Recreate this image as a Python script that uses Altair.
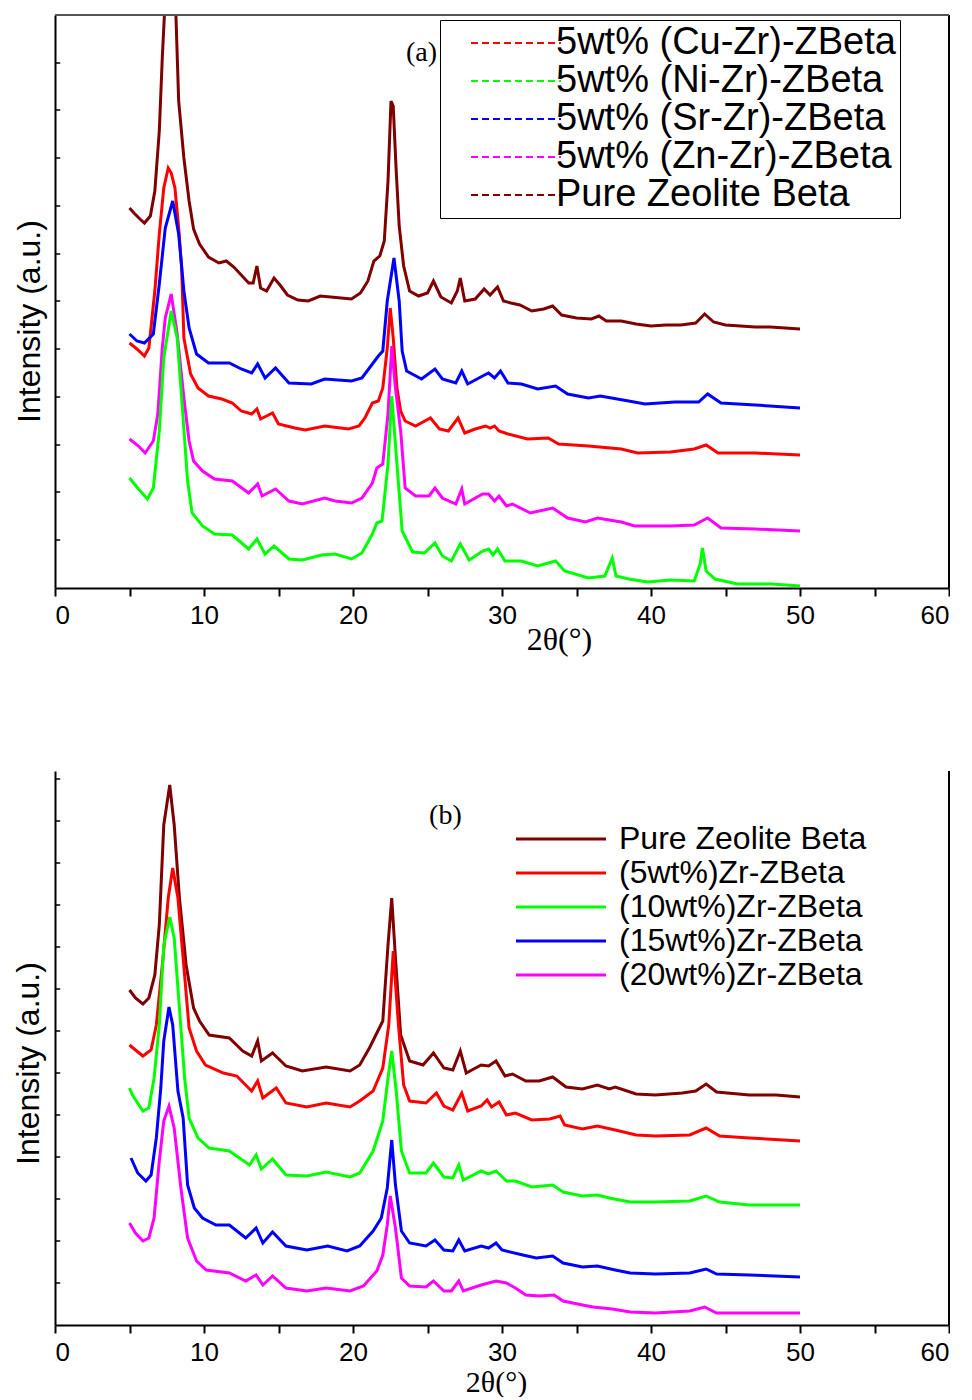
import altair as alt
import pandas as pd

# ---------------- Panel (a) ----------------
A_NAMES = ["5wt% (Cu-Zr)-ZBeta", "5wt% (Ni-Zr)-ZBeta", "5wt% (Sr-Zr)-ZBeta",
           "5wt% (Zn-Zr)-ZBeta", "Pure Zeolite Beta"]
A_COLORS = ["#FF0000", "#00FF00", "#0000FF", "#FF00FF", "#800000"]
A_DRAW_ORDER = ["Pure Zeolite Beta", "5wt% (Cu-Zr)-ZBeta", "5wt% (Sr-Zr)-ZBeta",
                "5wt% (Zn-Zr)-ZBeta", "5wt% (Ni-Zr)-ZBeta"]

a_pure_t = [5.0,5.3,5.7,6.0,6.4,6.7,7.0,7.2,7.4,7.7,7.9,8.1,8.3,8.65,9.0,9.3,9.7,10.3,11.0,11.5,
            12.0,12.5,13.0,13.3,13.55,13.8,14.2,14.7,15.1,15.6,16.3,17.0,17.8,18.5,19.2,19.9,20.5,21.0,21.4,21.8,
            22.1,22.35,22.55,22.7,22.9,23.1,23.4,23.8,24.4,25.0,25.4,25.9,26.6,27.0,27.2,27.5,28.2,28.8,29.2,29.7,
            30.1,30.6,31.2,32.0,32.8,33.4,34.0,35.0,36.0,36.5,37.0,38.0,39.0,40.0,41.0,42.0,43.0,43.6,44.2,45.0,
            46.0,47.0,48.0,49.0,50.0]
a_pure_i = [380,375,369,365,372,397,457,530,590,700,690,580,487,430,387,359,344,331,325,327,
            321,313,305,305,322,300,297,310,303,293,288,287,292,291,290,289,295,307,327,332,
            347,407,487,482,417,362,322,297,292,295,307,291,285,297,310,287,289,299,293,301,
            287,285,283,277,279,282,273,270,269,272,267,267,264,262,263,263,265,274,266,263,
            262,261,261,260,259]

a_cu_t = [5.0,5.5,6.0,6.3,6.7,7.0,7.3,7.6,7.8,8.05,8.3,8.5,8.65,9.1,9.6,10.3,11.2,11.9,12.5,13.2,
          13.55,13.8,14.6,15.0,16.1,16.8,18.1,19.7,20.4,20.8,21.3,21.7,22.0,22.3,22.5,22.7,22.95,23.2,23.5,24.2,
          25.2,25.8,26.4,27.05,27.5,28.2,28.9,29.2,29.5,29.8,30.4,31.7,33.1,33.8,35.8,38.0,39.1,41.3,42.9,43.7,
          44.5,47.0,50.0]
a_cu_i = [245,239,232,240,297,354,400,420,415,400,360,320,250,214,200,192,189,185,177,174,
          179,169,175,164,160,158,162,159,162,170,185,187,200,240,280,250,200,177,167,162,
          170,159,157,170,155,159,162,160,162,157,154,149,150,144,142,139,135,136,139,143,
          135,135,133]

a_sr_t = [5.0,5.5,6.0,6.6,7.0,7.4,7.9,8.3,8.65,9.0,9.5,10.3,11.7,12.5,13.2,13.6,14.1,14.8,15.7,17.2,
          18.1,19.9,20.6,21.3,21.7,22.0,22.3,22.75,23.1,23.3,23.6,24.6,25.5,26.0,26.9,27.3,27.7,28.7,29.1,29.5,
          29.9,30.4,31.3,32.4,33.6,34.4,35.8,36.6,38.5,39.6,41.6,43.2,43.8,44.7,47.0,50.0]
a_sr_i = [254,247,245,254,304,360,387,354,297,260,234,225,225,219,215,224,210,220,205,204,
          209,207,210,224,232,237,287,330,287,237,217,209,219,209,205,217,204,212,215,210,
          217,205,204,199,202,194,190,192,187,184,186,186,194,185,183,180]

a_zn_t = [5.0,5.6,6.05,6.6,6.9,7.2,7.4,7.8,8.2,8.65,9.0,9.3,9.9,10.7,11.9,13.0,13.6,13.9,14.8,15.7,
          16.6,18.1,18.8,19.9,20.6,21.3,21.6,22.0,22.35,22.6,22.85,23.2,23.5,24.2,25.1,25.5,26.0,26.9,27.3,27.5,
          28.7,29.1,29.5,29.8,30.3,30.7,31.9,33.4,34.4,35.6,36.4,38.0,38.9,41.3,42.9,43.8,44.7,47.0,50.0]
a_zn_i = [149,142,135,147,174,240,270,294,254,190,147,127,117,109,107,95,104,92,99,87,
          84,90,87,85,90,105,120,124,174,242,200,157,100,92,92,100,90,84,99,84,
          94,94,87,92,82,84,75,80,70,66,70,66,62,62,63,70,60,59,57]

a_ni_t = [5.0,5.6,6.2,6.6,7.0,7.3,7.8,8.2,8.5,8.9,9.2,9.9,10.7,11.9,13.0,13.55,14.1,14.7,15.7,16.6,
          17.9,18.8,19.9,20.6,21.3,21.6,21.95,22.35,22.6,22.95,23.3,24.0,24.8,25.5,26.0,26.6,27.2,27.8,28.7,29.1,
          29.4,29.7,30.2,31.3,32.4,33.6,34.2,35.8,36.9,37.4,37.65,38.5,39.8,41.3,42.9,43.3,43.45,43.7,44.3,45.8,
          48.1,50.0]
a_ni_i = [110,99,89,100,157,230,277,250,190,107,75,62,54,53,39,49,34,42,29,28,
          33,34,29,35,54,65,67,124,192,124,57,36,35,45,32,27,44,28,37,39,
          33,39,27,27,22,27,17,10,12,30,12,9,6,8,7,24,40,17,9,4,
          4,2]

A_TOP = 573
A_YTICKS = [48, 96, 143, 191, 239, 287, 334, 382, 430, 478, 525]
A_NOTE = {"t": [24.6], "i": [535], "label": ["(a)"]}

# ---------------- Panel (b) ----------------
B_NAMES = ["Pure Zeolite Beta", "(5wt%)Zr-ZBeta", "(10wt%)Zr-ZBeta",
           "(15wt%)Zr-ZBeta", "(20wt%)Zr-ZBeta"]
B_COLORS = ["#800000", "#FF0000", "#00FF00", "#0000FF", "#FF00FF"]

b_pure_t = [5.0,5.4,5.9,6.3,6.7,7.0,7.3,7.7,8.0,8.35,8.8,9.3,9.7,10.35,11.7,12.6,13.2,13.6,13.85,14.6,
            15.5,16.6,18.2,19.8,20.45,21.1,21.6,22.0,22.35,22.6,22.85,23.2,23.8,24.7,25.4,26.1,26.7,27.2,27.6,28.6,
            29.1,29.6,30.2,30.7,31.6,32.5,33.4,34.3,35.4,36.4,37.2,37.6,39.0,40.3,42.1,43.0,43.7,44.4,46.6,48.4,
            50.0]
b_pure_i = [335,327,321,327,350,400,500,540,500,427,360,317,304,290,287,274,269,284,264,272,
            259,254,258,254,260,277,292,304,380,427,367,290,264,260,272,257,255,274,252,260,
            259,264,249,251,244,244,248,238,236,240,236,238,231,230,232,234,241,233,230,230,
            228]

b_5_t = [5.0,5.4,5.9,6.45,6.8,7.25,7.6,7.9,8.25,8.6,9.0,9.5,10.1,11.3,12.2,13.2,13.6,13.95,14.85,15.5,
         16.9,18.2,19.8,20.45,21.35,22.0,22.4,22.7,23.05,23.4,23.8,24.9,25.6,26.1,26.7,27.3,27.7,28.6,29.0,29.3,
         29.8,30.3,30.9,32.0,33.2,33.9,34.2,35.4,36.4,37.6,39.0,40.3,42.6,43.7,44.6,46.6,50.0]
b_5_i = [280,275,269,275,300,367,427,457,427,367,297,274,260,252,249,234,244,227,237,222,
         218,222,218,224,234,257,300,374,300,240,224,222,232,219,215,232,214,219,225,218,
         223,210,212,205,206,209,200,196,199,195,190,189,190,197,189,187,184]

b_10_t = [5.0,5.2,5.9,6.3,6.65,7.0,7.3,7.7,8.0,8.35,8.7,9.0,9.6,10.35,11.7,13.05,13.5,13.85,14.6,15.5,
          16.9,18.2,19.8,20.45,21.35,22.0,22.35,22.6,22.9,23.25,23.8,24.9,25.4,26.1,26.7,27.1,27.4,28.6,29.1,29.6,
          30.3,30.9,32.0,33.4,34.1,35.4,36.4,37.2,38.6,40.3,42.6,43.7,44.6,46.6,50.0]
b_10_i = [237,230,214,217,247,300,380,408,387,317,247,207,187,177,174,160,170,156,166,150,
          149,153,148,152,174,204,247,274,234,174,152,152,162,148,147,160,145,154,151,154,
          144,144,138,140,133,129,130,127,123,123,124,129,123,120,120]

b_15_t = [5.1,5.55,6.1,6.45,6.8,7.1,7.3,7.65,7.9,8.25,8.6,8.9,9.35,9.9,10.8,11.7,12.8,13.5,13.95,14.6,
          15.5,16.9,18.3,19.6,20.45,21.35,21.9,22.3,22.6,22.85,23.25,23.8,24.9,25.5,26.1,26.7,27.1,27.5,28.6,29.1,
          29.6,30.0,31.4,32.3,33.4,34.1,35.4,36.4,37.6,38.6,40.3,42.6,43.7,44.4,46.6,50.0]
b_15_i = [167,152,144,150,187,237,284,318,300,234,207,140,117,107,100,100,87,97,82,93,
          79,75,79,74,79,94,107,137,185,140,94,82,79,85,75,74,85,74,79,77,
          82,75,70,67,69,62,58,59,55,52,51,52,56,51,50,48]

b_20_t = [5.0,5.4,5.9,6.3,6.65,7.0,7.3,7.65,8.0,8.45,8.9,9.5,10.15,11.7,12.8,13.5,13.95,14.6,15.5,16.9,
          18.2,19.8,20.7,21.6,22.0,22.3,22.5,22.85,23.25,23.8,24.9,25.4,26.1,26.6,27.1,27.4,28.6,29.6,30.3,30.9,
          31.6,32.5,33.5,34.1,35.4,36.1,37.4,38.6,40.3,42.6,43.6,44.4,46.6,50.0]
b_20_i = [102,92,84,87,107,164,204,219,197,137,87,64,55,52,44,50,40,49,37,34,
          37,34,39,54,70,100,129,97,47,39,38,44,34,34,44,34,40,44,42,37,
          30,29,30,24,20,18,16,13,12,14,18,12,12,12]

B_TOP = 554
B_YTICKS = [42, 84, 126, 168, 210, 252, 294, 336, 378, 420, 462, 504, 546]
B_NOTE = {"t": [26.2], "i": [509], "label": ["(b)"]}

X_TICKS = [0, 5, 10, 15, 20, 25, 30, 35, 40, 45, 50, 55, 60]


def build_df(names, ts, vs):
    rows = []
    for n, t, v in zip(names, ts, vs):
        assert len(t) == len(v), n
        for a, b in zip(t, v):
            rows.append({"series": n, "theta": a, "intensity": b})
    return pd.DataFrame(rows)


df_a = build_df(["Pure Zeolite Beta", "5wt% (Cu-Zr)-ZBeta", "5wt% (Sr-Zr)-ZBeta",
                 "5wt% (Zn-Zr)-ZBeta", "5wt% (Ni-Zr)-ZBeta"],
                [a_pure_t, a_cu_t, a_sr_t, a_zn_t, a_ni_t],
                [a_pure_i, a_cu_i, a_sr_i, a_zn_i, a_ni_i])
df_b = build_df(B_NAMES, [b_pure_t, b_5_t, b_10_t, b_15_t, b_20_t],
                [b_pure_i, b_5_i, b_10_i, b_15_i, b_20_i])

W = 894
LABEL_FONT = "Liberation Sans"
SERIF = "Liberation Serif"


def x_axis(title_x, title_y, title_size):
    return alt.Axis(values=X_TICKS, labelExpr="datum.value % 10 == 0 ? datum.label : ''",
                    tickSize=8, tickWidth=2, labelFont=LABEL_FONT, labelFontSize=26,
                    labelPadding=6, title="2θ(°)", titleFont=SERIF, titleFontSize=title_size,
                    titleFontWeight="normal", titleX=title_x, titleY=title_y,
                    titleBaseline="top", titleAlign="center", grid=False)


def y_axis(title_x, title_y):
    return alt.Axis(labels=False, ticks=False, title="Intensity (a.u.)", titleFont=LABEL_FONT,
                    titleFontSize=32, titleFontWeight="normal", titleX=title_x, titleY=title_y,
                    titleAlign="center", titleBaseline="middle", titleAngle=270, grid=False)


def panel(df, names, colors, draw_order, top, yticks, note, legend, xax, yax, height, boxed):
    xs = alt.Scale(domain=[0, 60], nice=False, zero=False)
    ys = alt.Scale(domain=[0, top], nice=False, zero=False)
    X = alt.X("theta:Q", scale=xs, axis=xax)
    Y = alt.Y("intensity:Q", scale=ys, axis=yax)
    C = alt.Color("series:N", scale=alt.Scale(domain=names, range=colors), legend=legend)
    layers = []
    for name in draw_order:
        layers.append(
            alt.Chart(df).transform_filter(alt.datum.series == name)
            .mark_line(strokeWidth=3, clip=True)
            .encode(x=X, y=Y, color=C)
        )
    ticks = alt.Chart(pd.DataFrame({"v": yticks})).mark_rule(color="black", strokeWidth=1.5).encode(
        x=alt.datum(0, scale=xs), x2=alt.datum(0.35),
        y=alt.Y("v:Q", scale=ys, axis=yax))
    right = alt.Chart(pd.DataFrame({"v": [0]})).mark_rule(color="black", strokeWidth=2).encode(
        x=alt.datum(60, scale=xs), y=alt.datum(0, scale=ys), y2=alt.datum(top))
    extra = [ticks, right]
    if boxed:
        topline = alt.Chart(pd.DataFrame({"v": [0]})).mark_rule(color="#555555", strokeWidth=2).encode(
            y=alt.datum(top, scale=ys), x=alt.datum(0, scale=xs), x2=alt.datum(60))
        extra.append(topline)
    txt = alt.Chart(pd.DataFrame(note)).mark_text(font=SERIF, fontSize=28, color="black").encode(
        x=alt.X("t:Q", scale=xs, axis=xax), y=alt.Y("i:Q", scale=ys, axis=yax), text="label:N")
    return alt.layer(*layers, *extra, txt).properties(width=W, height=height)


legend_a = alt.Legend(orient="none", legendX=385, legendY=5, title=None,
                      symbolType="M0.533,0H6.533", symbolSize=900, symbolStrokeWidth=2,
                      symbolDash=[7, 4], labelFont=LABEL_FONT, labelFontSize=38, labelColor="black",
                      labelOffset=74, labelLimit=800, padding=4, strokeColor="black",
                      fillColor="white", rowPadding=0)
legend_b = alt.Legend(orient="none", legendX=457, legendY=52, title=None,
                      symbolType="M-1,0H6.5", symbolSize=576, symbolStrokeWidth=3,
                      labelFont=LABEL_FONT, labelFontSize=32, labelColor="black",
                      labelOffset=75, labelLimit=800, padding=0, rowPadding=2)

panel_a = panel(df_a, A_NAMES, A_COLORS, A_DRAW_ORDER, A_TOP, A_YTICKS, A_NOTE, legend_a,
                x_axis(504, 36, 32), y_axis(-26, 306), 573, True)
panel_b = panel(df_b, B_NAMES, B_COLORS, B_NAMES, B_TOP, B_YTICKS, B_NOTE, legend_b,
                x_axis(441, 42, 30), y_axis(-27, 292), 554, False)

chart = (
    alt.vconcat(panel_a, panel_b, spacing=115)
    .resolve_scale(color="independent")
    .properties(padding={"left": 12, "top": 14, "right": 0, "bottom": 0}, background="white")
    .configure_view(stroke=None)
    .configure_axis(domainColor="black", domainWidth=2, tickColor="black",
                    labelColor="black", titleColor="black")
)

chart.save("out.html", embed_options={"renderer": "svg", "actions": False})
